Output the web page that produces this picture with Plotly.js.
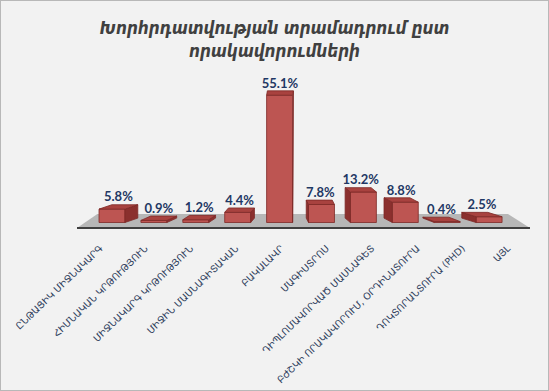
<!DOCTYPE html>
<html>
<head>
<meta charset="utf-8">
<script src="https://cdn.plot.ly/plotly-3.0.1.min.js"></script>
<style>
  html, body { margin: 0; padding: 0; background: #f2f2f2; }
  #wrap { position: relative; width: 549px; height: 391px; }
  #chart { width: 549px; height: 391px; }
  #frame { position: absolute; left: 0; top: 0; width: 547px; height: 389px; border: 1px solid #b8b8b8; pointer-events: none; }
</style>
</head>
<body>
<div id="wrap"><div id="chart"></div><div id="frame"></div></div>
<script>
// ---- data ----
const categories = [
  'ԸՆԹԱՑԻԿ ՄԻՋՆԱԿԱՐԳ',
  'ՀԻՄՆԱԿԱՆ ԿՐԹՈՒԹՅՈՒՆ',
  'ՄԻՋՆԱԿԱՐԳ ԿՐԹՈՒԹՅՈՒՆ',
  'ՄԻՋԻՆ ՄԱՍՆԱԳԻՏԱԿԱՆ',
  'ԲԱԿԱԼԱՎՐ',
  'ՄԱԳԻՍՏՐՈՍ',
  'ԴԻՊԼՈՄԱՎՈՐՎԱԾ ՄԱՍՆԱԳԵՏ',
  'ԲԺՇԿԻ ՈՐԱԿԱՎՈՐՈՒՄ, ՕՐԴԻՆԱՏՈՒՐԱ',
  'ԴՈԿՏՈՐԱՆՏՈՒՐԱ (PHD)',
  'ԱՅԼ'
];
const values = [5.8, 0.9, 1.2, 4.4, 55.1, 7.8, 13.2, 8.8, 0.4, 2.5];
const valueLabels = values.map(v => v.toFixed(1) + '%');
const titleText = 'Խորհրդատվության տրամադրում ըստ<br>որակավորումների';

// ---- style (pseudo 3D) ----
const idx = categories.map((_, i) => i);
const barW = 0.62;      // bar width in category units
const depthY = 1.9;     // vertical depth of top face (value units)
const persp = 0.072;    // perspective horizontal shift factor
const vanish = 4.25;    // vanishing position (category units)

const sideX = [], sideY = [], topX = [], topY = [], lblX = [], lblY = [];
idx.forEach(i => {
  const v = values[i];
  const dx = persp * (vanish - i);
  const xl = i - barW / 2, xr = i + barW / 2;
  const xe = dx > 0 ? xr : xl;
  sideX.push(xe, xe, xe + dx, xe + dx, xe, null);
  sideY.push(0, v, v + depthY, depthY, 0, null);
  topX.push(xl, xr, xr + dx, xl + dx, xl, null);
  topY.push(v, v, v + depthY, v + depthY, v, null);
  lblX.push(i + dx / 2);
  lblY.push(v + depthY);
});

const edge = '#7d2927';
const traces = [
  { type: 'bar', x: idx, y: values, width: barW,
    marker: { color: '#bd5552', line: { color: edge, width: 0.8 } },
    hoverinfo: 'skip' },
  { type: 'scatter', mode: 'lines', x: sideX, y: sideY, fill: 'toself',
    fillcolor: '#8b302e', line: { color: edge, width: 0.8 }, hoverinfo: 'skip' },
  { type: 'scatter', mode: 'lines', x: topX, y: topY, fill: 'toself',
    fillcolor: '#a8423f', line: { color: edge, width: 0.8 }, hoverinfo: 'skip' },
  { type: 'scatter', mode: 'text', x: lblX, y: lblY, text: valueLabels,
    textposition: 'top center',
    textfont: { family: 'Lato, "Open Sans", sans-serif', size: 13, color: '#1f3864', weight: 'bold' },
    hoverinfo: 'skip', cliponaxis: false },
  // carrier for the category axis
  { type: 'scatter', mode: 'markers', x: idx, y: idx.map(() => 0), xaxis: 'x2',
    marker: { opacity: 0 }, hoverinfo: 'skip' }
];

// floor (perspective plane)
const n = categories.length;
const fFrontY = -2.4, fBackY = 3.7;
const fFrontL = -0.835, fFrontR = n - 1 + 0.976;
const fBackL = -0.35, fBackR = n - 1 + 0.45;

const layout = {
  width: 549, height: 391,
  paper_bgcolor: '#f2f2f2', plot_bgcolor: '#f2f2f2',
  margin: { l: 0, r: 0, t: 60, b: 155 },
  showlegend: false,
  title: {
    text: titleText,
    font: { family: '"DejaVu Sans Condensed", "DejaVu Sans", sans-serif', size: 17, color: '#404040', weight: 'bold', style: 'italic' },
    x: 0.5, xanchor: 'center', y: 0.912, yanchor: 'top', yref: 'container'
  },
  xaxis: { range: [-2.673, 10.43], showticklabels: false, showgrid: false, zeroline: false, showline: false, fixedrange: true },
  xaxis2: { overlaying: 'x', anchor: 'y', side: 'bottom', range: [-2.2075, 9.912],
    tickmode: 'array', tickvals: idx, ticktext: categories, tickangle: -44,
    tickfont: { family: '"DejaVu Sans", sans-serif', size: 9.5, color: '#2e3d5c' },
    ticklabelstandoff: 4,
    showgrid: false, zeroline: false, showline: false, ticks: '' },
  yaxis: { range: [-5.84, 70.35], visible: false, fixedrange: true },
  shapes: [
    { type: 'path', xref: 'x', yref: 'y', layer: 'below',
      path: `M ${fFrontL} ${fFrontY} L ${fFrontR} ${fFrontY} L ${fBackR} ${fBackY} L ${fBackL} ${fBackY} Z`,
      fillcolor: '#b7b7b7', line: { width: 0 } },
    { type: 'line', xref: 'x', yref: 'y', layer: 'below',
      x0: fFrontL, x1: fFrontR, y0: fFrontY, y1: fFrontY,
      line: { color: '#3f3f3f', width: 2 } }
  ]
};

Plotly.newPlot('chart', traces, layout, { displayModeBar: false, staticPlot: true });
</script>
</body>
</html>
